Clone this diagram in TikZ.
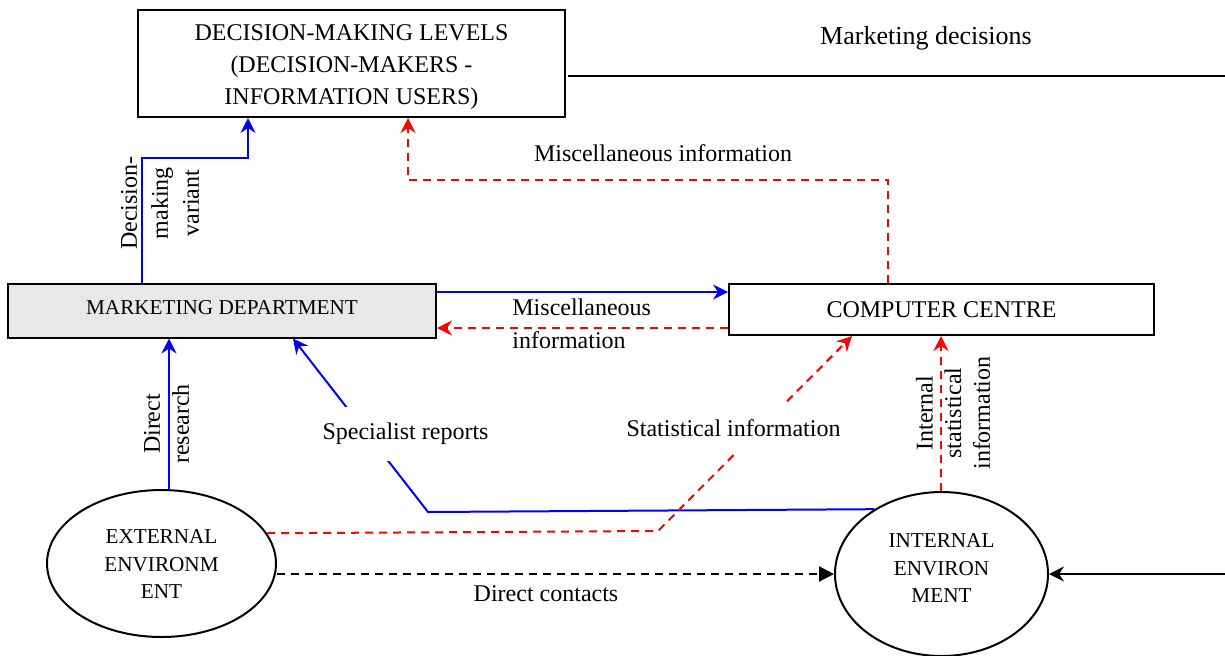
\documentclass[tikz,border=0pt]{standalone}
\usepackage{fontspec}
\setmainfont{Liberation Serif}
\usetikzlibrary{arrows.meta,shapes.geometric}
\definecolor{mdgray}{HTML}{E8E8E8}
\begin{document}
\begin{tikzpicture}[x=0.5pt,y=-0.5pt,
  box/.style={draw,line width=1pt,inner sep=0pt,align=center,font=\fontsize{12}{16}\selectfont},
  ell/.style={draw,ellipse,line width=1pt,inner sep=0pt},
  etxt/.style={inner sep=0pt,align=center,font=\fontsize{10.6}{13.9}\selectfont},
  lbl/.style={inner sep=0pt,font=\fontsize{12}{16}\selectfont},
  rlbl/.style={inner sep=0pt,rotate=90,align=center},
  tip/.style={-{Stealth[length=7.5pt,width=7.5pt,inset=2.5pt]}},
  bl/.style={draw=blue,line width=1pt,tip},
  rd/.style={draw=red,line width=1pt,dash pattern=on 4pt off 3pt,tip},
  bk/.style={draw=black,line width=1pt},
  gap/.style={lbl,fill=white,inner xsep=3pt,inner ysep=8pt}]
\useasboundingbox (0,0) rectangle (1225,655);

% boxes
\node[box,minimum width=213.5pt,minimum height=53.5pt] (dm) at (351.5,63.5) {};
\node[box,draw=none] (dmt) at (351.5,67.5)
  {DECISION-MAKING LEVELS\\(DECISION-MAKERS -\\INFORMATION USERS)};
\node[box,fill=mdgray,minimum width=214pt,minimum height=27pt,
  font=\fontsize{10.6}{13}\selectfont,text height=7pt,text depth=3.5pt] (md) at (222,310.5)
  {MARKETING DEPARTMENT};
\node[box,minimum width=212.5pt,minimum height=25.5pt] (cc) at (941.5,309.5)
  {COMPUTER CENTRE};
\node[ell,minimum width=114.5pt,minimum height=73.5pt] (ext) at (161.5,563.5) {};
\node[etxt] (extt) at (161.5,564) {EXTERNAL\\ENVIRONM\\ENT};
\node[ell,minimum width=106.5pt,minimum height=82pt] (int) at (941.5,574) {};
\node[etxt] (intt) at (941.5,568) {INTERNAL\\ENVIRON\\MENT};

% marketing decisions
\node[lbl,font=\fontsize{13}{16}\selectfont] (mdec) at (926,38) {Marketing decisions};
\coordinate (mdl) at (568,76);
\coordinate (mdr) at (1225,76);
\draw[bk] (mdl) -- (mdr);

% decision-making variant
\coordinate (c1) at (142,158);
\coordinate (c2) at (248,158);
\draw[bl] (c1 |- md.north) -- (c1) -- (c2) -- (c2 |- dm.south);
\node[rlbl,font=\fontsize{12}{15.5}\selectfont] (dmv) at (160,203) {Decision-\\making\\variant};

% miscellaneous information (top)
\coordinate (r1) at (888,180);
\coordinate (r2) at (408,180);
\draw[rd] (r1 |- cc.north) -- (r1) -- (r2) -- (r2 |- dm.south);
\node[lbl] (mi1) at (663,153) {Miscellaneous information};

% between marketing and computer centre
\coordinate (h1) at (0,292);
\coordinate (h2) at (0,328);
\draw[bl] (h1 -| md.east) -- (h1 -| cc.west);
\draw[rd] (h2 -| cc.west) -- (h2 -| md.east);
\node[lbl,align=left,anchor=west,font=\fontsize{12}{16.5}\selectfont] (mi2) at (512,323.5) {Miscellaneous\\information};

% direct research
\coordinate (v1) at (169,0);
\draw[bl] (ext.north -| v1) -- (v1 |- md.south);
\node[rlbl,font=\fontsize{12}{14.5}\selectfont] (dr) at (166.5,424) {Direct\\research};

% specialist reports
\coordinate (sp1) at (428,512);
\coordinate (sp2) at (293,0);
\draw[bl] (int.136) -- (sp1) -- (sp2 |- md.south);
\node[gap] (spr) at (405.5,434) {Specialist reports};

% statistical information
\coordinate (st1) at (658,531);
\coordinate (st2) at (852,0);
\draw[rd] (ext.16) -- (st1) -- (st2 |- cc.south);
\node[gap] (sti) at (733.5,428) {Statistical information};

% internal statistical information
\coordinate (iv) at (941,0);
\draw[rd] (int.north -| iv) -- (iv |- cc.south);
\node[rlbl,font=\fontsize{12}{14.3}\selectfont] (isi) at (953,413) {Internal\\statistical\\information};

% direct contacts
\coordinate (dcy) at (0,574);
\draw[bk,dash pattern=on 4pt off 3pt,-{Triangle[length=7.5pt,width=7.5pt]}] (dcy -| ext.east) -- (dcy -| int.west);
\node[lbl] (dc) at (546,594) {Direct contacts};

% incoming arrow
\coordinate (rin) at (1225,574);
\draw[bk,tip] (rin) -- (rin -| int.east);
\end{tikzpicture}
\end{document}
